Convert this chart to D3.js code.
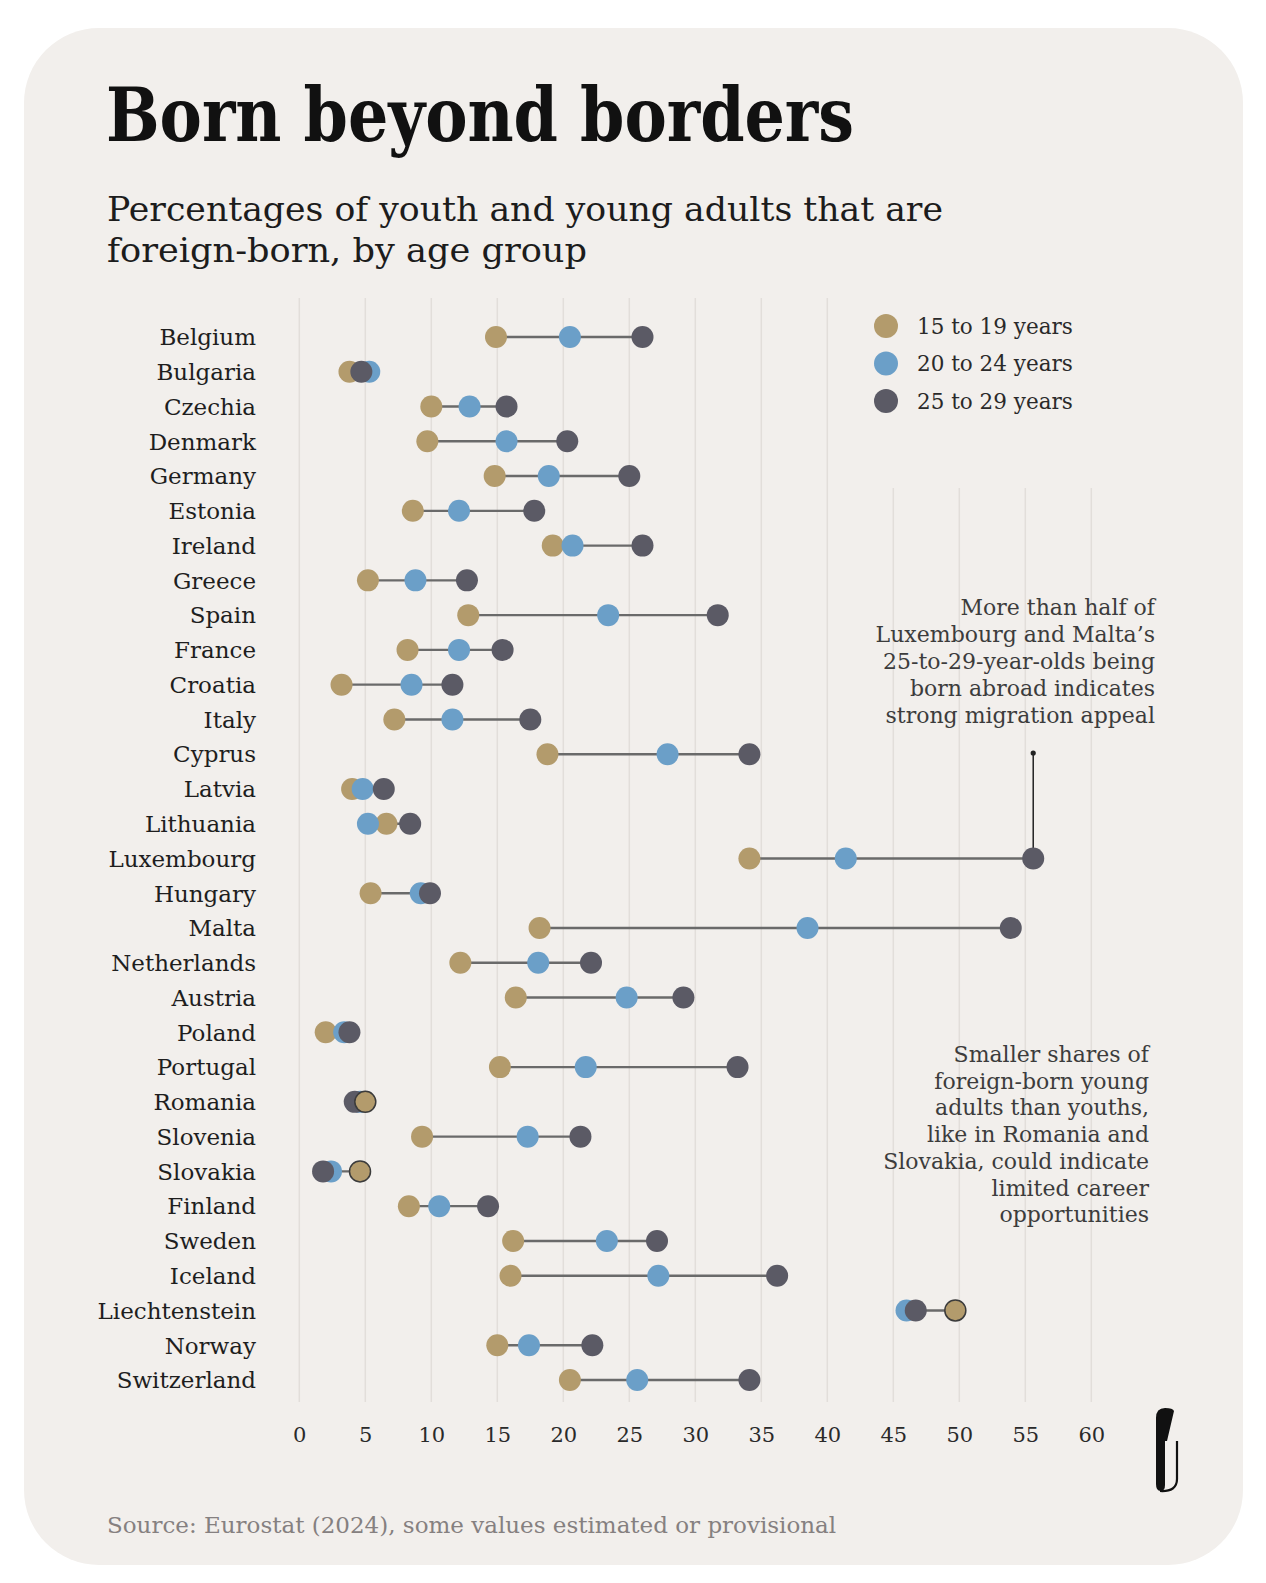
<!DOCTYPE html>
<html>
<head>
<meta charset="utf-8">
<script src="https://cdn.jsdelivr.net/npm/d3@7"></script>
<style>
  body { margin: 0; background: #ffffff; }
  text { font-family: "DejaVu Serif", serif; }
</style>
</head>
<body>
<script>
var width = 1266,
    height = 1583;

// data (percent foreign-born)
var countries = ["Belgium", "Bulgaria", "Czechia", "Denmark", "Germany", "Estonia", "Ireland",
    "Greece", "Spain", "France", "Croatia", "Italy", "Cyprus", "Latvia", "Lithuania",
    "Luxembourg", "Hungary", "Malta", "Netherlands", "Austria", "Poland", "Portugal",
    "Romania", "Slovenia", "Slovakia", "Finland", "Sweden", "Iceland", "Liechtenstein",
    "Norway", "Switzerland"];

var age15to19 = [14.9, 3.8, 10.0, 9.7, 14.8, 8.6, 19.2, 5.2, 12.8, 8.2, 3.2, 7.2, 18.8, 4.0, 6.6,
    34.1, 5.4, 18.2, 12.2, 16.4, 2.0, 15.2, 5.0, 9.3, 4.6, 8.3, 16.2, 16.0, 49.7, 15.0, 20.5];
var age20to24 = [20.5, 5.3, 12.9, 15.7, 18.9, 12.1, 20.7, 8.8, 23.4, 12.1, 8.5, 11.6, 27.9, 4.8, 5.2,
    41.4, 9.2, 38.5, 18.1, 24.8, 3.4, 21.7, 4.6, 17.3, 2.4, 10.6, 23.3, 27.2, 46.0, 17.4, 25.6];
var age25to29 = [26.0, 4.7, 15.7, 20.3, 25.0, 17.8, 26.0, 12.7, 31.7, 15.4, 11.6, 17.5, 34.1, 6.4, 8.4,
    55.6, 9.9, 53.9, 22.1, 29.1, 3.8, 33.2, 4.2, 21.3, 1.8, 14.3, 27.1, 36.2, 46.7, 22.2, 34.1];

var ageGroups = ["15 to 19 years", "20 to 24 years", "25 to 29 years"];
var groupColors = ["#b39b6c", "#6b9fc8", "#5b5a65"];
var xTicks = [0, 5, 10, 15, 20, 25, 30, 35, 40, 45, 50, 55, 60];

var note1 = ["More than half of", "Luxembourg and Malta\u2019s", "25-to-29-year-olds being",
    "born abroad indicates", "strong migration appeal"];
var note2 = ["Smaller shares of", "foreign-born young", "adults than youths,",
    "like in Romania and", "Slovakia, could indicate", "limited career", "opportunities"];

var rows = countries.map(function(c, i) {
    return { country: c, vals: [age15to19[i], age20to24[i], age25to29[i]] };
});

var svg = d3.select("body").append("svg")
    .attr("width", width)
    .attr("height", height);

// card
svg.append("rect")
    .attr("x", 24).attr("y", 28)
    .attr("width", 1219).attr("height", 1537)
    .attr("rx", 75).attr("ry", 75)
    .attr("fill", "#f2efec");

var x = d3.scaleLinear()
    .domain([0, 60])
    .range([299.3, 1091.3]);

var y = d3.scalePoint()
    .domain(countries)
    .range([337, 1380]);

// title + subtitle
svg.append("text")
    .attr("x", 106).attr("y", 141)
    .attr("textLength", 748).attr("lengthAdjust", "spacingAndGlyphs")
    .style("font-family", "'DejaVu Serif Condensed', 'DejaVu Serif', serif")
    .style("font-weight", "bold")
    .style("font-size", "74px")
    .attr("fill", "#111")
    .text("Born beyond borders");

svg.append("text")
    .attr("x", 107).attr("y", 221)
    .attr("textLength", 836).attr("lengthAdjust", "spacingAndGlyphs")
    .style("font-size", "33px")
    .attr("fill", "#1c1c1c")
    .text("Percentages of youth and young adults that are");

svg.append("text")
    .attr("x", 107).attr("y", 262)
    .attr("textLength", 480).attr("lengthAdjust", "spacingAndGlyphs")
    .style("font-size", "33px")
    .attr("fill", "#1c1c1c")
    .text("foreign-born, by age group");

// gridlines
svg.selectAll(".grid")
    .data(xTicks)
    .enter()
    .append("line")
    .attr("class", "grid")
    .attr("x1", d => x(d)).attr("x2", d => x(d))
    .attr("y1", d => d > 40 ? 488 : 298)
    .attr("y2", 1402)
    .attr("stroke", "#e2deda")
    .attr("stroke-width", 1.5);

// x axis
var xAxis = svg.append("g")
    .attr("transform", "translate(0,1420)")
    .call(d3.axisBottom(x).tickValues(xTicks).tickSize(0).tickPadding(7));
xAxis.select(".domain").remove();
xAxis.selectAll("text")
    .style("font-family", "'DejaVu Serif', serif")
    .style("font-size", "21px")
    .attr("fill", "#2a2a2a");

// country labels
svg.selectAll(".country")
    .data(countries)
    .enter()
    .append("text")
    .attr("class", "country")
    .attr("x", 256)
    .attr("y", d => y(d))
    .attr("dy", "0.36em")
    .attr("text-anchor", "end")
    .style("font-size", "23px")
    .attr("fill", "#1e1e1e")
    .text(d => d);

// annotation: leader to Luxembourg
var lux = rows[countries.indexOf("Luxembourg")];
svg.append("line")
    .attr("x1", x(lux.vals[2])).attr("x2", x(lux.vals[2]))
    .attr("y1", 753).attr("y2", y("Luxembourg") - 10)
    .attr("stroke", "#222").attr("stroke-width", 1.5);
svg.append("circle")
    .attr("cx", x(lux.vals[2])).attr("cy", 753).attr("r", 2.6)
    .attr("fill", "#222");

// dumbbells
var row = svg.selectAll(".row")
    .data(rows)
    .enter()
    .append("g")
    .attr("class", "row")
    .attr("transform", d => "translate(0," + y(d.country) + ")");

row.append("line")
    .attr("x1", d => x(d3.min(d.vals)))
    .attr("x2", d => x(d3.max(d.vals)))
    .attr("stroke", "#6a6a6a")
    .attr("stroke-width", 2.4);

row.each(function(d) {
    var order = [0, 1, 2];
    // youngest group on top (outlined) where it exceeds the oldest
    if (d.vals[0] > d.vals[2]) order = [1, 2, 0];
    var g = d3.select(this);
    order.forEach(function(k) {
        var outlined = (k === 0 && d.vals[0] > d.vals[2]);
        g.append("circle")
            .attr("cx", x(d.vals[k]))
            .attr("cy", 0)
            .attr("r", outlined ? 10.5 : 11)
            .attr("fill", groupColors[k])
            .attr("stroke", outlined ? "#3b3b3b" : "none")
            .attr("stroke-width", 1.5);
    });
});

// legend
var legend = svg.selectAll(".legend")
    .data(ageGroups)
    .enter()
    .append("g")
    .attr("class", "legend")
    .attr("transform", (d, i) => "translate(886," + (326 + i * 37.5) + ")");
legend.append("circle")
    .attr("r", 12)
    .attr("fill", (d, i) => groupColors[i]);
legend.append("text")
    .attr("x", 31)
    .attr("dy", "0.36em")
    .style("font-size", "21.5px")
    .attr("fill", "#2a2a2a")
    .text(d => d);

// notes
svg.append("g").selectAll("text")
    .data(note1)
    .enter()
    .append("text")
    .attr("x", 1155)
    .attr("y", (d, i) => 615 + i * 27)
    .attr("text-anchor", "end")
    .style("font-size", "22px")
    .attr("fill", "#3c3c3c")
    .text(d => d);

svg.append("g").selectAll("text")
    .data(note2)
    .enter()
    .append("text")
    .attr("x", 1149)
    .attr("y", (d, i) => 1062 + i * 26.7)
    .attr("text-anchor", "end")
    .style("font-size", "22px")
    .attr("fill", "#3c3c3c")
    .text(d => d);

// source
svg.append("text")
    .attr("x", 107).attr("y", 1533)
    .style("font-size", "23px")
    .attr("fill", "#858080")
    .text("Source: Eurostat (2024), some values estimated or provisional");

// logo mark
var logo = svg.append("g");
logo.append("path")
    .attr("d", "M1156,1418 Q1156,1408 1165,1408 Q1173,1408 1174,1411 L1167,1441 L1165,1441 L1165,1485 Q1165,1491 1160.5,1491 Q1156,1491 1156,1484 Z")
    .attr("fill", "#111");
logo.append("path")
    .attr("d", "M1160,1491 Q1177,1492 1177,1479 L1177,1441")
    .attr("fill", "none")
    .attr("stroke", "#111")
    .attr("stroke-width", 2.2);
</script>
</body>
</html>
